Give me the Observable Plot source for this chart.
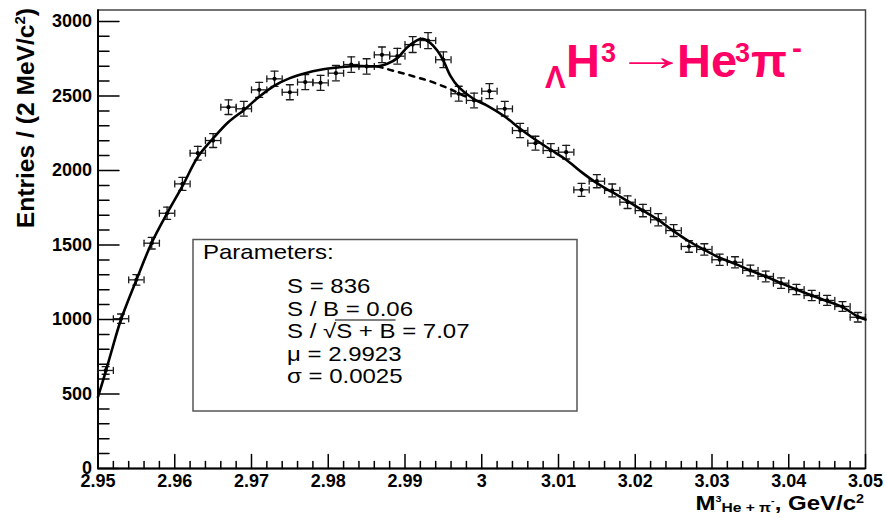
<!DOCTYPE html>
<html><head><meta charset="utf-8">
<script src="https://cdn.jsdelivr.net/npm/d3@7"></script>
<script src="https://cdn.jsdelivr.net/npm/@observablehq/plot@0.6"></script>
<style>body{margin:0;background:#fff} #chart{width:886px;height:521px}</style>
</head><body><div id="chart"></div>
<script>
// ---- data ----
const binCenters = [2.951,2.953,2.955,2.957,2.959,2.961,2.963,2.965,2.967,2.969,
  2.971,2.973,2.975,2.977,2.979,2.981,2.983,2.985,2.987,2.989,
  2.991,2.993,2.995,2.997,2.999,3.001,3.003,3.005,3.007,3.009,
  3.011,3.013,3.015,3.017,3.019,3.021,3.023,3.025,3.027,3.029,
  3.031,3.033,3.035,3.037,3.039,3.041,3.043,3.045,3.047,3.049];
const counts = [658,1005,1266,1512,1713,1910,2116,2201,2425,2414,
  2541,2615,2525,2593,2588,2653,2711,2698,2776,2767,
  2845,2872,2743,2515,2470,2532,2414,2268,2183,2134,
  2123,1870,1928,1866,1787,1731,1669,1597,1490,1470,
  1401,1384,1329,1289,1244,1201,1161,1128,1087,1015];
const binHalfWidth = 0.001;

const fitX = [2.950,2.951,2.952,2.953,2.955,2.957,2.959,2.961,2.963,2.965,2.967,2.969,2.971,2.973,2.975,2.977,2.979,2.981,2.983,2.985,2.9865,2.9877,2.989,2.9903,2.9918,2.9924,2.9933,2.9942,2.995,2.9959,2.997,2.999,3.0007,3.003,3.005,3.007,3.009,3.011,3.013,3.015,3.017,3.019,3.021,3.023,3.025,3.027,3.029,3.031,3.033,3.035,3.037,3.039,3.041,3.043,3.045,3.047,3.049,3.050];
const fitY = [480,650,830,1000,1265,1515,1712,1895,2090,2215,2325,2405,2495,2570,2620,2653,2676,2690,2700,2700,2700,2716,2754,2827,2879,2883,2856,2805,2738,2637,2559,2478,2436,2362,2280,2206,2139,2072,1989,1915,1854,1794,1731,1669,1593,1525,1468,1414,1374,1329,1289,1244,1201,1161,1123,1083,1020,1000];

const bkgX = [2.985,2.9865,2.9877,2.989,2.9903,2.9918,2.9931,2.9946,2.9959,2.9972,2.9985];
const bkgY = [2700,2697,2680,2662,2644,2621,2602,2573,2546,2513,2485];

const xMajorTicks = [2.95,2.96,2.97,2.98,2.99,3.00,3.01,3.02,3.03,3.04,3.05];
const xTickLabels = ["2.95","2.96","2.97","2.98","2.99","3","3.01","3.02","3.03","3.04","3.05"];
const yMajorTicks = [0,500,1000,1500,2000,2500,3000];
const yTickLabels = ["0","500","1000","1500","2000","2500","3000"];
const xMinorTicks = d3.range(0, 51).filter(i => i % 5 !== 0).map(i => 2.95 + i * 0.002);
const yMinorTicks = d3.range(1, 31).filter(i => i % 5 !== 0).map(i => i * 100);

const paramTitle = "Parameters:";
const paramLines = ["S = 836", "S / B = 0.06", null, "μ = 2.9923", "σ = 0.0025"];
const sbSqrt = ["S / ", "√", "S + B", " = 7.07"];

// ---- build ----
const bins = binCenters.map((x, i) => ({x, n: counts[i], e: Math.sqrt(counts[i])}));
const fit = fitX.map((x, i) => ({x, y: fitY[i]}));
const bkg = bkgX.map((x, i) => ({x, y: bkgY[i]}));
const lineShape = {draw(ctx, l) { ctx.moveTo(0, 0); ctx.lineTo(0, -l); }};

const plot = Plot.plot({
  width: 886, height: 521,
  marginLeft: 97.5, marginRight: 21, marginTop: 9.5, marginBottom: 53,
  x: {domain: [2.95, 3.05]},
  y: {domain: [0, 3077]},
  style: {fontFamily: "'Liberation Sans', Arial, sans-serif", background: "white", color: "black"},
  marks: [
    Plot.frame({stroke: "#444", strokeWidth: 1.5}),
    Plot.vector(xMajorTicks, {x: d => d, y: 0, length: 14, rotate: 0, anchor: "start", shape: lineShape, strokeWidth: 1.5, stroke: "black"}),
    Plot.vector(xMinorTicks, {x: d => d, y: 0, length: 7, rotate: 0, anchor: "start", shape: lineShape, strokeWidth: 1.5, stroke: "black"}),
    Plot.vector(yMajorTicks, {x: 2.95, y: d => d, length: 21, rotate: 90, anchor: "start", shape: lineShape, strokeWidth: 1.5, stroke: "black"}),
    Plot.vector(yMinorTicks, {x: 2.95, y: d => d, length: 11, rotate: 90, anchor: "start", shape: lineShape, strokeWidth: 1.5, stroke: "black"}),
    Plot.ruleX([2.95], {stroke: "black", strokeWidth: 2}),
    Plot.ruleY([0], {stroke: "black", strokeWidth: 2}),
    Plot.axisX(xMajorTicks, {tickSize: 0, tickPadding: 6, label: null, fontSize: 18, fontWeight: "bold", fill: "black",
      tickFormat: d => xTickLabels[xMajorTicks.indexOf(d)]}),
    Plot.axisY(yMajorTicks, {tickSize: 0, tickPadding: 6, label: null, fontSize: 18, fontWeight: "bold", fill: "black",
      tickFormat: d => yTickLabels[yMajorTicks.indexOf(d)]}),
    // error bars
    Plot.ruleY(bins, {y: "n", x1: d => d.x - binHalfWidth, x2: d => d.x + binHalfWidth, stroke: "#1a1a1a", strokeWidth: 1.3}),
    Plot.ruleX(bins, {x: "x", y1: d => d.n - d.e, y2: d => d.n + d.e, stroke: "#1a1a1a", strokeWidth: 1.3}),
    Plot.vector(bins, {x: "x", y: d => d.n + d.e, length: 7, rotate: 90, anchor: "middle", shape: lineShape, stroke: "#1a1a1a", strokeWidth: 1.3}),
    Plot.vector(bins, {x: "x", y: d => d.n - d.e, length: 7, rotate: 90, anchor: "middle", shape: lineShape, stroke: "#1a1a1a", strokeWidth: 1.3}),
    Plot.vector(bins, {x: d => d.x - binHalfWidth, y: "n", length: 6, rotate: 0, anchor: "middle", shape: lineShape, stroke: "#1a1a1a", strokeWidth: 1.3}),
    Plot.vector(bins, {x: d => d.x + binHalfWidth, y: "n", length: 6, rotate: 0, anchor: "middle", shape: lineShape, stroke: "#1a1a1a", strokeWidth: 1.3}),
    // fit curves
    Plot.line(bkg, {x: "x", y: "y", curve: "catmull-rom", stroke: "black", strokeWidth: 2.5, strokeDasharray: "5,6"}),
    Plot.line(fit, {x: "x", y: "y", curve: "catmull-rom", stroke: "black", strokeWidth: 2.6}),
    Plot.dot(bins, {x: "x", y: "n", r: 2.1, fill: "black", stroke: null})
  ]
});
document.getElementById("chart").appendChild(plot);

const svg = d3.select(plot);
const FONT = "'Liberation Sans', Arial, Helvetica, sans-serif";

// Y axis label
const yl = svg.append("text")
  .attr("transform", "translate(33.5,8) rotate(-90) scale(1.07,1)")
  .attr("text-anchor", "end")
  .attr("font-family", FONT).attr("font-weight", "bold").attr("font-size", 23).attr("fill", "black");
yl.append("tspan").text("Entries / (2 MeV/c");
yl.append("tspan").attr("font-size", 14).attr("dy", -9).text("2");
yl.append("tspan").attr("dy", 9).text(")");

// X axis label
const xl = svg.append("text")
  .attr("transform", "translate(864,510) scale(1.2,1)")
  .attr("text-anchor", "end")
  .attr("font-family", FONT).attr("font-weight", "bold").attr("font-size", 20).attr("fill", "black");
xl.append("tspan").text("M");
xl.append("tspan").attr("font-size", 9).attr("dy", -8).text("3");
xl.append("tspan").attr("font-size", 13).attr("dy", 10).text("He + π");
xl.append("tspan").attr("font-size", 9).attr("dy", -8).text("-");
xl.append("tspan").attr("dy", 6).text(", GeV/c");
xl.append("tspan").attr("font-size", 12).attr("dy", -7).text("2");

// Title
const PINK = "#ff0066";
const t = svg.append("text").attr("text-anchor", "start").attr("font-family", FONT).attr("font-weight", "bold").attr("fill", PINK);
t.append("tspan").attr("x", 545).attr("y", 88).attr("font-size", 31).text("Λ");
t.append("tspan").attr("x", 566).attr("y", 77).attr("font-size", 47).text("H");
t.append("tspan").attr("x", 601).attr("y", 62).attr("font-size", 27).text("3");
t.append("tspan").attr("x", 677).attr("y", 77).attr("font-size", 47).text("He");
t.append("tspan").attr("x", 735).attr("y", 62).attr("font-size", 27).text("3");
t.append("tspan").attr("x", 751).attr("y", 77).attr("font-size", 47).text("π");
t.append("tspan").attr("x", 792).attr("y", 58).attr("font-size", 30).text("-");
svg.append("text").attr("transform", "translate(614,70) scale(1.85,1)")
  .attr("text-anchor", "start").attr("font-family", FONT).attr("font-size", 40).attr("fill", PINK).text("→");

// Parameters box
svg.append("rect").attr("x", 193).attr("y", 239.5).attr("width", 384).attr("height", 171.5)
  .attr("fill", "white").attr("stroke", "#555").attr("stroke-width", 1.5);
const SX = 1.2, FS = 20;
function ptext(x, y) {
  return svg.append("text").attr("transform", `translate(${x},${y}) scale(${SX},1)`)
    .attr("text-anchor", "start")
    .attr("font-family", FONT).attr("font-size", FS).attr("fill", "black");
}
ptext(203, 259).text(paramTitle);
const baselines = [293, 316, 338, 361, 383];
paramLines.forEach((s, i) => {
  if (s !== null) { ptext(287, baselines[i]).text(s); return; }
  const tt = ptext(287, baselines[i]);
  const spans = sbSqrt.map(p => tt.append("tspan").text(p));
  const w0 = spans[0].node().getComputedTextLength() + spans[1].node().getComputedTextLength();
  const w1 = spans[2].node().getComputedTextLength();
  svg.append("line")
    .attr("x1", 287 + SX * (w0 - 1)).attr("x2", 287 + SX * (w0 + w1))
    .attr("y1", baselines[i] - 18).attr("y2", baselines[i] - 18)
    .attr("stroke", "black").attr("stroke-width", 1.2);
});
</script>
</body></html>
